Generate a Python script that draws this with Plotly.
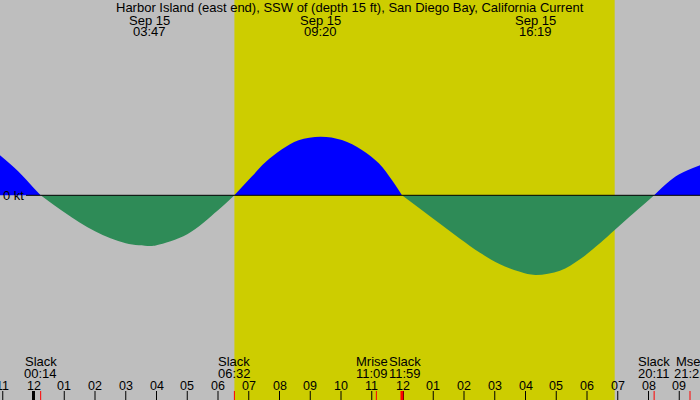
import plotly.graph_objects as go

# current speed (kt), hours after midnight Sep 15
hours = [-1.09, -0.5, 0.0, 0.233, 1, 2, 3, 3.783, 4, 5, 6, 6.533,
         7.106, 7.54, 8.08, 8.62, 9.333, 10.03, 10.68, 11.23, 11.66, 11.983,
         12.57, 13.22, 13.87, 14.52, 15.17, 15.82, 16.317, 17.12, 17.77, 18.42,
         18.91, 19.40, 19.89, 20.183,
         20.6, 21, 21.675]
speed = [0.40, 0.24, 0.075, 0.0, -0.17, -0.36, -0.48, -0.507, -0.50, -0.39, -0.15, 0.0,
         0.19, 0.33, 0.46, 0.55, 0.586, 0.553, 0.453, 0.32, 0.15, 0.0,
         -0.135, -0.285, -0.435, -0.575, -0.69, -0.765, -0.797, -0.755, -0.64, -0.48,
         -0.345, -0.21, -0.08, 0.0,
         0.12, 0.21, 0.30]

title = "Harbor Island (east end), SSW of (depth 15 ft), San Diego Bay, California Current"
date_label = "Sep 15"
max_times = ["03:47", "09:20", "16:19"]

event_names = ["Slack", "Slack", "Mrise", "Slack", "Slack", "Mset"]
event_times = ["00:14", "06:32", "11:09", "11:59", "20:11", "21:21"]
event_nudge = [0, 0, -4.5, 3.5, 0, 0]  # px, keeps overlapping labels apart

sunrise, sunset = "06:32", "18:54"

tick_hours = list(range(-1, 22))
tick_labels = ["11", "12", "01", "02", "03", "04", "05", "06", "07", "08", "09", "10",
               "11", "12", "01", "02", "03", "04", "05", "06", "07", "08", "09"]

FONT = "Liberation Sans"
GREY = "#bebebe"
DAY = "#cdcd00"


def to_h(s):
    hh, mm = s.split(":")
    return int(hh) + int(mm) / 60


def px_y(p):
    # pixel row (from top of 400 px page) -> paper fraction
    return 1 - p / 400


# split the samples into flood / ebb lobes between slack points
lobes = []
cur_x, cur_y = [hours[0]], [speed[0]]
for h, v in zip(hours[1:], speed[1:]):
    cur_x.append(h)
    cur_y.append(v)
    if v == 0:
        lobes.append((cur_x, cur_y))
        cur_x, cur_y = [h], [v]
lobes.append((cur_x, cur_y))

fig = go.Figure()
for lx, ly in lobes:
    ebb = min(ly) < 0
    fig.add_trace(go.Scatter(
        x=lx, y=ly, mode="lines", line=dict(width=0, shape="spline", smoothing=1.0),
        fill="tozeroy", fillcolor="#2e8b57" if ebb else "#0000ff",
        hoverinfo="skip", showlegend=False))

x_lo = -33.5 / 30.75
x_hi = (700 - 33.5) / 30.75

shapes = [
    dict(type="rect", xref="x", yref="paper", x0=to_h(sunrise), x1=to_h(sunset),
         y0=0, y1=1, fillcolor=DAY, line_width=0, layer="below"),
    dict(type="line", xref="paper", yref="y", x0=26 / 700, x1=1, y0=0, y1=0,
         line=dict(color="black", width=1)),
]
# hour ticks along the bottom edge, midnight/noon drawn heavier
for h in tick_hours:
    shapes.append(dict(type="line", xref="x", yref="paper", x0=h, x1=h,
                       y0=0, y1=px_y(391),
                       line=dict(color="black", width=3 if h % 12 == 0 else 1)))
for t in event_times:
    shapes.append(dict(type="line", xref="x", yref="paper", x0=to_h(t), x1=to_h(t),
                       y0=0, y1=px_y(391),
                       line=dict(color="red", width=3 if t == "11:59" else 1)))

ann = [dict(text=title, xref="paper", yref="paper", x=0.5, y=px_y(7.5),
            showarrow=False, yanchor="middle", font=dict(size=13)),
       dict(text="0 kt", xref="paper", yref="y", x=0, xshift=1, y=0,
            xanchor="left", yanchor="middle", showarrow=False)]
for t in max_times:
    ann.append(dict(text=date_label, xref="x", yref="paper", x=to_h(t), y=px_y(20),
                    showarrow=False, yanchor="middle"))
    ann.append(dict(text=t, xref="x", yref="paper", x=to_h(t), y=px_y(31.5),
                    showarrow=False, yanchor="middle"))
for name, t, dx in zip(event_names, event_times, event_nudge):
    ann.append(dict(text=name, xref="x", yref="paper", x=to_h(t), xshift=dx,
                    y=px_y(361.5), showarrow=False, yanchor="middle"))
    ann.append(dict(text=t, xref="x", yref="paper", x=to_h(t), xshift=dx,
                    y=px_y(373.5), showarrow=False, yanchor="middle"))
for h, lab in zip(tick_hours, tick_labels):
    ann.append(dict(text=lab, xref="x", yref="paper", x=h, y=px_y(385.5),
                    showarrow=False, yanchor="middle", font=dict(size=12.5)))

fig.update_layout(
    width=700, height=400, margin=dict(l=0, r=0, t=0, b=0),
    paper_bgcolor=GREY, plot_bgcolor=GREY,
    font=dict(family=FONT, size=13, color="black"),
    shapes=shapes, annotations=ann,
    xaxis=dict(range=[x_lo, x_hi], visible=False),
    yaxis=dict(range=[-2.047, 1.953], visible=False),
)

# page body has a default 8px margin; drop it so the chart fills the window
fig.write_html("out.html", config={"displayModeBar": False},
               post_script="document.body.style.margin='0';")
